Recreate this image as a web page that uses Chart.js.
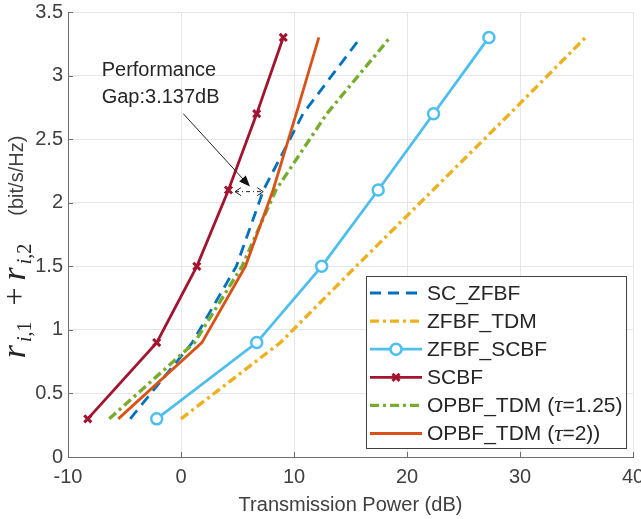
<!DOCTYPE html>
<html lang="en">
<head>
  <meta charset="UTF-8">
  <title>Transmission power vs. sum rate</title>
  <script src="https://cdn.jsdelivr.net/npm/chart.js"></script>
  <style>
    html, body { margin: 0; padding: 0; background: #fff; }
    #wrap { width: 641px; height: 519px; position: relative; }
  </style>
</head>
<body>
<div id="wrap"><canvas id="myChart"></canvas></div>
<script>
  // rate levels (bit/s/Hz) at which every scheme was evaluated
  const rateLevels = [0.3, 0.9, 1.5, 2.1, 2.7, 3.3];

  // transmission power (dB) each scheme needs at those rates
  const scZfbf   = [-4.5, 1.0, 4.9, 7.3, 10.8, 15.9];
  const zfbfTdm  = [0.0, 8.8, 15.5, 22.3, 29.1, 35.8];
  const zfbfScbf = [-2.15, 6.7, 12.45, 17.45, 22.35, 27.25];
  const scbf     = [-8.25, -2.15, 1.4, 4.2, 6.7, 9.05];
  const opbf125  = [-6.35, 1.2, 5.4, 8.4, 12.9, 18.5];
  const opbf2    = [-5.55, 1.85, 5.7, 8.15, 10.2, 12.2];

  const seriesLabels = ['SC_ZFBF', 'ZFBF_TDM', 'ZFBF_SCBF', 'SCBF', 'OPBF_TDM (τ=1.25)', 'OPBF_TDM (τ=2))'];

  const xTicks = [-10, 0, 10, 20, 30, 40];
  const yTicks = [0, 0.5, 1, 1.5, 2, 2.5, 3, 3.5];

  const gapText = ['Performance', 'Gap:3.137dB'];

  const sans = '"Liberation Sans", Arial, Helvetica, sans-serif';
  const serif = '"Liberation Serif", "Times New Roman", serif';
  const tickColor = '#404040';

  const toPoints = xs => xs.map((x, i) => ({ x: x, y: rateLevels[i] }));

  function line(label, xs, color, extra) {
    return Object.assign({
      label: label,
      data: toPoints(xs),
      borderColor: color,
      backgroundColor: color,
      borderWidth: 2.8,
      borderCapStyle: 'butt',
      pointRadius: 0,
      tension: 0,
      fill: false
    }, extra || {});
  }

  // small annotation: "Performance Gap" with arrows (data coordinates)
  const annotation = {
    id: 'gapNote',
    afterDatasetsDraw(chart) {
      const { ctx, scales: { x, y } } = chart;
      ctx.save();
      ctx.fillStyle = '#262626';
      ctx.font = '20px ' + sans;
      ctx.textBaseline = 'alphabetic';
      ctx.fillText(gapText[0], x.getPixelForValue(-7.02), y.getPixelForValue(2.998));
      ctx.fillText(gapText[1], x.getPixelForValue(-7.02), y.getPixelForValue(2.783));

      // pointer arrow
      const x0 = x.getPixelForValue(0.2), y0 = y.getPixelForValue(2.70);
      const x1 = x.getPixelForValue(6.1), y1 = y.getPixelForValue(2.127);
      const ang = Math.atan2(y1 - y0, x1 - x0);
      ctx.strokeStyle = '#222';
      ctx.lineWidth = 1;
      ctx.beginPath();
      ctx.moveTo(x0, y0);
      ctx.lineTo(x1 - 8 * Math.cos(ang), y1 - 8 * Math.sin(ang));
      ctx.stroke();
      ctx.fillStyle = '#111';
      ctx.beginPath();
      ctx.moveTo(x1, y1);
      ctx.lineTo(x1 - 11 * Math.cos(ang) + 4.5 * Math.sin(ang), y1 - 11 * Math.sin(ang) - 4.5 * Math.cos(ang));
      ctx.lineTo(x1 - 11 * Math.cos(ang) - 4.5 * Math.sin(ang), y1 - 11 * Math.sin(ang) + 4.5 * Math.cos(ang));
      ctx.closePath();
      ctx.fill();

      // double arrow showing the gap
      const ya = y.getPixelForValue(2.087);
      const xa = x.getPixelForValue(4.78), xb = x.getPixelForValue(7.28);
      ctx.setLineDash([4, 3, 1, 3]);
      ctx.beginPath();
      ctx.moveTo(xa, ya);
      ctx.lineTo(xb, ya);
      ctx.stroke();
      ctx.setLineDash([]);
      ctx.beginPath();
      ctx.moveTo(xa + 6, ya - 4); ctx.lineTo(xa, ya); ctx.lineTo(xa + 6, ya + 4);
      ctx.moveTo(xb - 6, ya - 4); ctx.lineTo(xb, ya); ctx.lineTo(xb - 6, ya + 4);
      ctx.stroke();

      // inward tick marks like MATLAB
      const a = chart.chartArea;
      ctx.strokeStyle = '#6e6e6e';
      ctx.beginPath();
      x.ticks.forEach(t => {
        const px = Math.round(x.getPixelForValue(t.value)) + 0.5;
        ctx.moveTo(px, a.bottom); ctx.lineTo(px, a.bottom - 5);
      });
      y.ticks.forEach(t => {
        const py = Math.round(y.getPixelForValue(t.value)) + 0.5;
        ctx.moveTo(a.left, py); ctx.lineTo(a.left + 5, py);
      });
      ctx.stroke();
      ctx.restore();
    }
  };

  // legend box inside the axes, axis titles
  const extras = {
    id: 'extras',
    afterDraw(chart) {
      const ctx = chart.ctx;
      const a = chart.chartArea;
      ctx.save();

      // legend
      const right = a.right - 7, bottom = a.bottom - 9;
      const w = 260, h = 172, left = right - w, top = bottom - h;
      ctx.fillStyle = '#fff';
      ctx.fillRect(left, top, w, h);
      ctx.strokeStyle = '#404040';
      ctx.lineWidth = 1;
      ctx.strokeRect(Math.round(left) + 0.5, Math.round(top) + 0.5, w, h);

      chart.data.datasets.forEach((ds, i) => {
        const cy = top + 17 + i * 28.1;
        const sx = left + 4, ex = left + 56;
        ctx.strokeStyle = ds.borderColor;
        ctx.lineWidth = ds.borderWidth;
        ctx.lineCap = 'butt';
        ctx.setLineDash(ds.borderDash || []);
        ctx.beginPath();
        ctx.moveTo(sx, cy); ctx.lineTo(ex, cy);
        ctx.stroke();
        ctx.setLineDash([]);
        if (ds.pointRadius > 0) {
          ctx.fillStyle = ds.pointBackgroundColor || ds.borderColor;
          ctx.strokeStyle = ds.borderColor;
          ctx.lineWidth = ds.pointBorderWidth;
          Chart.helpers.drawPoint(ctx, {
            pointStyle: ds.pointStyle, radius: ds.pointRadius, borderWidth: ds.pointBorderWidth, rotation: 0
          }, (sx + ex) / 2, cy);
        }
        // label, tau in italic serif
        ctx.fillStyle = '#262626';
        ctx.textBaseline = 'middle';
        let tx = left + 61;
        const parts = ds.label.split('τ');
        parts.forEach((p, k) => {
          ctx.font = '21px ' + sans;
          ctx.fillText(p, tx, cy + 1);
          tx += ctx.measureText(p).width;
          if (k < parts.length - 1) {
            ctx.font = 'italic 23px ' + serif;
            ctx.fillText('τ', tx, cy + 1);
            tx += ctx.measureText('τ').width;
          }
        });
      });

      // x title
      ctx.fillStyle = tickColor;
      ctx.font = '20px ' + sans;
      ctx.textAlign = 'center';
      ctx.textBaseline = 'alphabetic';
      ctx.fillText('Transmission Power (dB)', (a.left + a.right) / 2, 511);

      // y title: r_{i,1} + r_{i,2}  (bit/s/Hz)
      ctx.textAlign = 'left';
      const pieces = [
        { t: 'r', f: 'italic 34px ' + serif, dy: 0, after: 3 },
        { t: 'i', f: 'italic 20px ' + serif, dy: 6, after: 0 },
        { t: ',1', f: '20px ' + serif, dy: 6, after: 16 },
        { t: '+', f: '32px ' + serif, dy: 0, after: 7 },
        { t: 'r', f: 'italic 34px ' + serif, dy: 0, after: 3 },
        { t: 'i', f: 'italic 20px ' + serif, dy: 6, after: 0 },
        { t: ',2', f: '20px ' + serif, dy: 6, after: 28 },
        { t: '(bit/s/Hz)', f: '20px ' + sans, dy: -2, after: 0 }
      ];
      let total = 0;
      pieces.forEach(p => { ctx.font = p.f; p.w = ctx.measureText(p.t).width; total += p.w + p.after; });
      ctx.translate(25, 247);
      ctx.rotate(-Math.PI / 2);
      let px = -total / 2;
      pieces.forEach(p => {
        ctx.font = p.f;
        ctx.fillStyle = p.t.indexOf('bit') >= 0 ? tickColor : '#262626';
        ctx.fillText(p.t, px, p.dy);
        px += p.w + p.after;
      });
      ctx.restore();
    }
  };

  window.onload = function () {
    const ctx = document.getElementById('myChart').getContext('2d');
    const datasets = [
      line(seriesLabels[0], scZfbf, '#0072BD', { borderDash: [11, 7] }),
      line(seriesLabels[1], zfbfTdm, '#EDB120', { borderDash: [9, 4, 3, 4], borderWidth: 3.4 }),
      line(seriesLabels[2], zfbfScbf, '#4DBEEE', {
        pointRadius: 5.5, pointStyle: 'circle', pointBorderWidth: 2.5,
        pointBackgroundColor: '#fff', pointBorderColor: '#4DBEEE'
      }),
      line(seriesLabels[3], scbf, '#A2142F', {
        pointRadius: 5, pointStyle: 'crossRot', pointBorderWidth: 3, pointBorderColor: '#A2142F'
      }),
      line(seriesLabels[4], opbf125, '#77AC30', { borderDash: [9, 4, 3, 4], borderWidth: 3.4 }),
      line(seriesLabels[5], opbf2, '#D95319')
    ];
    // later series on top, like MATLAB
    datasets.forEach((d, i) => { d.order = datasets.length - i; });

    new Chart(ctx, {
      type: 'scatter',
      data: { datasets: datasets.map(d => Object.assign(d, { showLine: true })) },
      options: {
        responsive: true,
        maintainAspectRatio: false,
        animation: false,
        layout: { padding: { top: 12, right: 8, left: 0, bottom: 0 } },
        plugins: { legend: { display: false }, tooltip: { enabled: false } },
        scales: {
          x: {
            type: 'linear', min: -10, max: 40,
            afterBuildTicks: s => { s.ticks = xTicks.map(v => ({ value: v })); },
            afterFit: s => { s.height = 62; s.paddingLeft = 0; s.paddingRight = 0; },
            ticks: {
              color: tickColor, font: { family: sans, size: 20 }, padding: 8, maxRotation: 0, autoSkip: false,
              callback: v => String(v)
            },
            grid: { color: '#e6e6e6', drawTicks: false },
            border: { display: true, color: '#6e6e6e', width: 1 }
          },
          y: {
            type: 'linear', min: 0, max: 3.5,
            afterBuildTicks: s => { s.ticks = yTicks.map(v => ({ value: v })); },
            afterFit: s => { s.width = 68; s.paddingTop = 0; s.paddingBottom = 0; },
            ticks: {
              color: tickColor, font: { family: sans, size: 20 }, padding: 5, autoSkip: false,
              callback: v => String(v)
            },
            grid: { color: '#e6e6e6', drawTicks: false },
            border: { display: true, color: '#6e6e6e', width: 1 }
          }
        }
      },
      plugins: [annotation, extras]
    });
  };
</script>
</body>
</html>
